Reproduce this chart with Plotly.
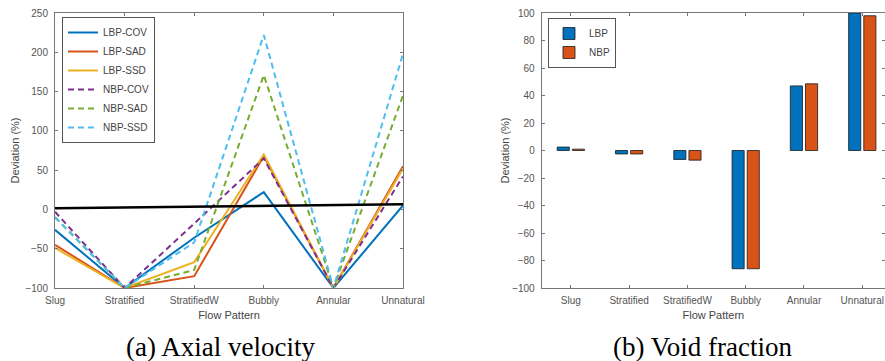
import plotly.graph_objects as go

categories = ["Slug", "Stratified", "StratifiedW", "Bubbly", "Annular", "Unnatural"]
cat_pos = [1, 2, 3, 4, 5, 6]

# (a) Axial velocity deviation (%)
lbp_cov = [-26, -100, -36, 22, -100, 5]
lbp_sad = [-45, -100, -85, 68, -100, 55]
lbp_ssd = [-49, -100, -67, 70, -100, 52]
nbp_cov = [-3, -100, -18, 65, -100, 42]
nbp_sad = [-10, -100, -77, 171, -100, 145]
nbp_ssd = [-10, -100, -42, 222, -100, 198]
zero_ref = [1.5, 6.5]

# (b) Void fraction deviation (%)
vf_lbp = [2.5, -2.5, -6.5, -86, 47, 100]
vf_nbp = [1, -2.5, -7, -86, 48.5, 98]

line_series = [
    ("LBP-COV", lbp_cov, "#0072BD", "solid"),
    ("LBP-SAD", lbp_sad, "#D95319", "solid"),
    ("LBP-SSD", lbp_ssd, "#EDB120", "solid"),
    ("NBP-COV", nbp_cov, "#7E2F8E", "6px,4px"),
    ("NBP-SAD", nbp_sad, "#77AC30", "6px,4px"),
    ("NBP-SSD", nbp_ssd, "#4DBEEE", "6px,4px"),
]

W, H = 885, 361
fig = go.Figure()

for name, vals, col, dash in line_series:
    fig.add_trace(go.Scatter(
        x=cat_pos, y=vals, mode="lines", name=name,
        line=dict(color=col, width=2, dash=dash),
        xaxis="x", yaxis="y", legend="legend",
    ))

fig.add_trace(go.Scatter(
    x=[cat_pos[0], cat_pos[-1]], y=zero_ref, mode="lines", showlegend=False,
    line=dict(color="black", width=2.5), xaxis="x", yaxis="y",
))

fig.add_trace(go.Bar(x=cat_pos, y=vf_lbp, name="LBP", marker=dict(color="#0072BD", line=dict(color="#1a1a1a", width=0.8)),
                     xaxis="x2", yaxis="y2", legend="legend2"))
fig.add_trace(go.Bar(x=cat_pos, y=vf_nbp, name="NBP", marker=dict(color="#D95319", line=dict(color="#1a1a1a", width=0.8)),
                     xaxis="x2", yaxis="y2", legend="legend2"))

FONT = "Arial, Liberation Sans, sans-serif"
tickfont = dict(family=FONT, size=10, color="#555")
titlefont = dict(family=FONT, size=11, color="#444")
axcol = "#777"

ydom = [1 - 288 / H, 1 - 13 / H]
common_x = dict(tickmode="array", tickvals=cat_pos, ticktext=categories, ticks="inside", ticklen=3,
                tickcolor=axcol, showline=True, linecolor=axcol, linewidth=1, mirror="allticks",
                showgrid=False, zeroline=False, tickfont=tickfont, ticklabelstandoff=3, automargin=False,
                title=dict(text="Flow Pattern", font=titlefont, standoff=6))
common_y = dict(ticks="inside", ticklen=3, tickcolor=axcol, showline=True, linecolor=axcol, linewidth=1,
                mirror="allticks", showgrid=False, zeroline=False, tickfont=tickfont, ticklabelstandoff=4,
                automargin=False)

fig.update_layout(
    width=W, height=H, margin=dict(l=0, r=0, t=0, b=0, autoexpand=False),
    paper_bgcolor="white", plot_bgcolor="white",
    barmode="group", bargap=0.48, bargroupgap=0.2,
    xaxis=dict(domain=[55 / W, 403 / W], range=[1, 6], anchor="y", **common_x),
    yaxis=dict(domain=ydom, range=[-100, 250], tickvals=[-100, -50, 0, 50, 100, 150, 200, 250], anchor="x",
               title=dict(text="Deviation (%)", font=titlefont, standoff=3), **common_y),
    xaxis2=dict(domain=[541.7 / W, 1.0], range=[0.5, 6.39], anchor="y2", **common_x),
    yaxis2=dict(domain=ydom, range=[-100, 100], tickvals=list(range(-100, 101, 20)), anchor="x2",
                title=dict(text="Deviation (%)", font=titlefont, standoff=0), **common_y),
    legend=dict(x=62 / W, y=1 - 17 / H, xanchor="left", yanchor="top", bgcolor="white",
                bordercolor="#555", borderwidth=1, font=dict(family=FONT, size=10, color="#444"),
                tracegroupgap=0, itemwidth=30),
    legend2=dict(x=548 / W, y=1 - 18 / H, xanchor="left", yanchor="top", bgcolor="white",
                 bordercolor="#555", borderwidth=1, font=dict(family=FONT, size=10, color="#444"),
                 tracegroupgap=0, itemwidth=30),
    annotations=[
        dict(text="(a) Axial velocity", x=220 / W, y=1 - 347 / H, xref="paper", yref="paper",
             xanchor="center", yanchor="middle",
             showarrow=False, font=dict(family="Liberation Serif, Times New Roman, serif", size=27, color="black")),
        dict(text="(b) Void fraction", x=702 / W, y=1 - 347 / H, xref="paper", yref="paper",
             xanchor="center", yanchor="middle",
             showarrow=False, font=dict(family="Liberation Serif, Times New Roman, serif", size=27, color="black")),
    ],
)

fig.write_html("out.html")
